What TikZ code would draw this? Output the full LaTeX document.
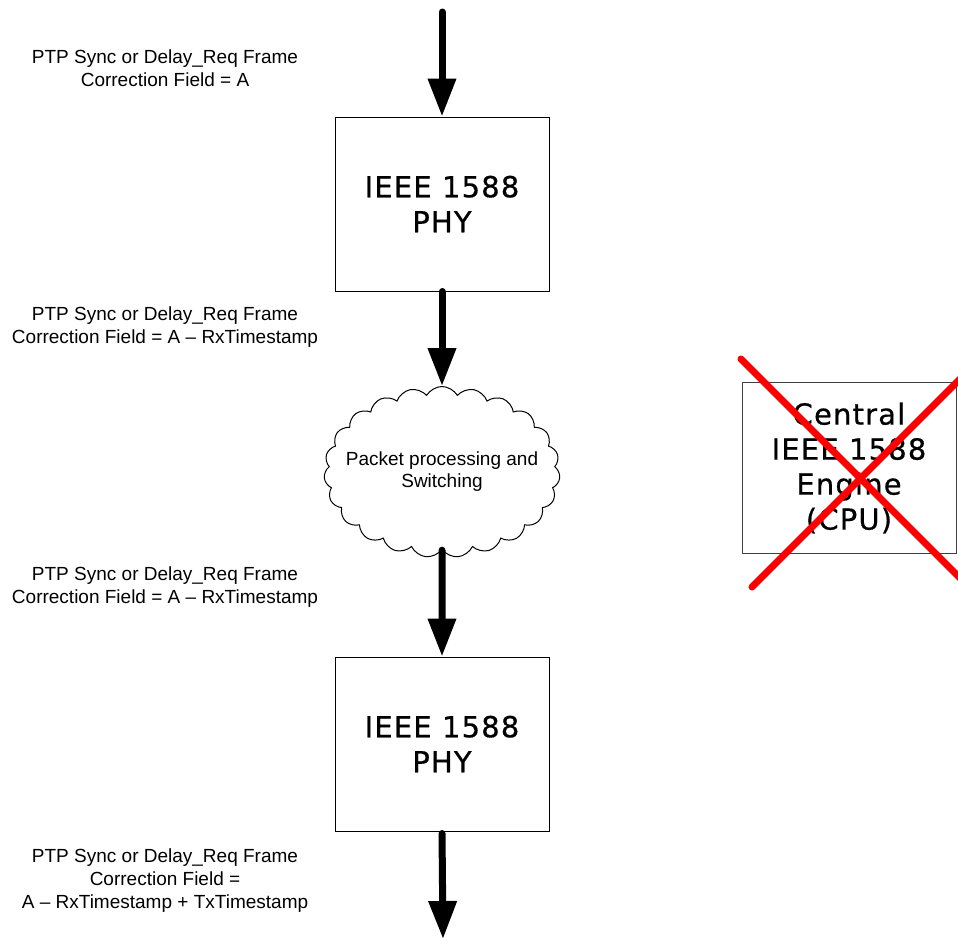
\documentclass[tikz,border=0pt]{standalone}
\usepackage{fontspec}
\setmainfont{Liberation Sans}
\newfontfamily\blockfont[LetterSpace=4,FakeBold=0.6]{DejaVu Sans}
\usetikzlibrary{arrows.meta,shapes.symbols}

\begin{document}
\begin{tikzpicture}[x=1pt,y=-1pt,
    flow/.style={line width=7pt,line cap=round,-{Triangle[width=27pt,length=38pt]}},
    block/.style={draw,line width=1pt,minimum width=214pt,minimum height=174pt,
      align=center,font=\blockfont\fontsize{29}{35}\selectfont},
    note/.style={align=center,font=\fontsize{19}{23}\selectfont},
    cross/.style={red,line width=7pt,line cap=round}]
  \useasboundingbox (0,0) rectangle (958,940);

  %% main path
  \coordinate (IN) at (442,12);
  \coordinate (OUT) at (443,939);
  \node (PHYA) at (442,204) [block] {IEEE 1588\\PHY};
  \node (SWITCH) at (442,472) [draw,line width=1pt,cloud,cloud puffs=23,cloud puff arc=120,
    cloud ignores aspect,inner sep=0pt,minimum width=236pt,minimum height=171pt,
    label={[align=center,font=\fontsize{19}{22}\selectfont]center:Packet processing and\\Switching}] {};
  \node (PHYB) at (442,744) [block] {IEEE 1588\\PHY};

  \draw[flow] (IN) -- (PHYA.north);
  \draw[flow] (PHYA.south) -- (SWITCH.north);
  \draw[flow] (SWITCH.south) -- (PHYB.north);
  \draw[flow,shorten <=2pt] (PHYB.south) -- (OUT);

  %% frame labels
  \node (LBLA) at (165,68) [note] {PTP Sync or Delay\_Req Frame\\Correction Field = A};
  \node (LBLB) at (165,327) [note] {PTP Sync or Delay\_Req Frame\\Correction Field = A – RxTimestamp};
  \node (LBLC) at (165,587) [note] {PTP Sync or Delay\_Req Frame\\Correction Field = A – RxTimestamp};
  \node (LBLD) at (165,881) [note] {PTP Sync or Delay\_Req Frame\\Correction Field =\\A – RxTimestamp + TxTimestamp};

  %% engine that is not used
  \node (CPU) at (849,468) [block,draw=black!75,minimum height=171pt] {Central\\IEEE 1588\\Engine\\(CPU)};
  \draw[cross] (741,359) -- (980,598);
  \draw[cross] (752,587) -- (980,359);

\end{tikzpicture}
\end{document}
